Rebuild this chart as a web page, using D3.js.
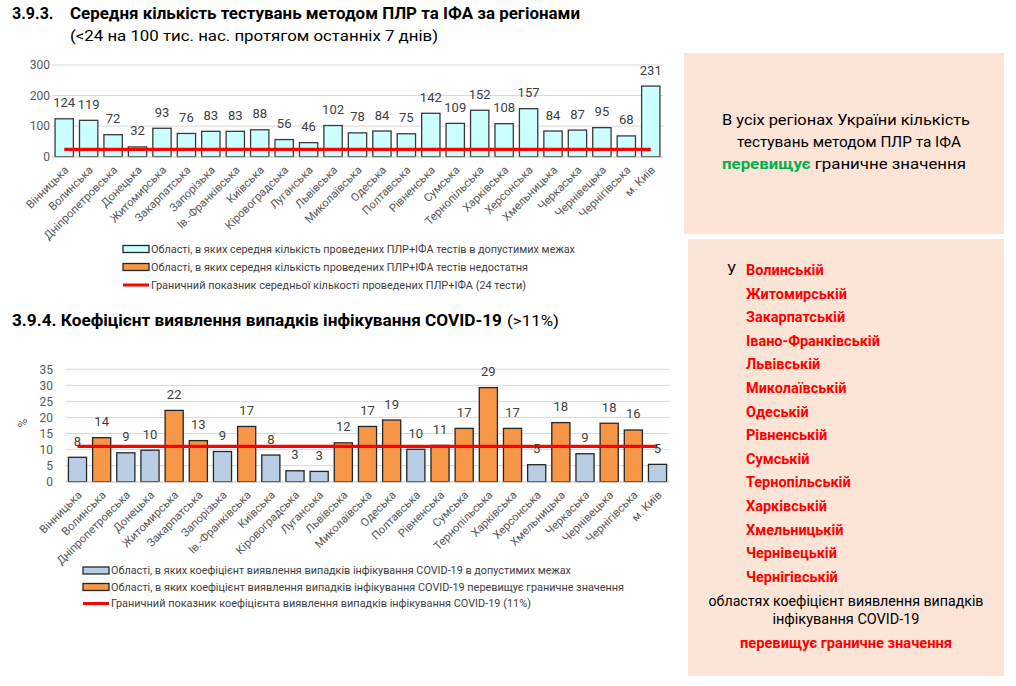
<!DOCTYPE html>
<html><head><meta charset="utf-8">
<script src="https://cdn.jsdelivr.net/npm/d3@7"></script>
<style>
body{margin:0;background:#fff;}
svg{display:block;font-family:Roboto,"Liberation Sans",sans-serif;}
</style></head>
<body><svg id="c" width="1016" height="686"></svg>
<script>
// ---------- DATA ----------
const regions = ["Вінницька","Волинська","Дніпропетровська","Донецька","Житомирська","Закарпатська","Запорізька","Ів.-Франківська","Київська","Кіровоградська","Луганська","Львівська","Миколаївська","Одеська","Полтавська","Рівненська","Сумська","Тернопільська","Харківська","Херсонська","Хмельницька","Черкаська","Чернівецька","Чернігівська","м. Київ"];
const testsValues = [124,119,72,32,93,76,83,83,88,56,46,102,78,84,75,142,109,152,108,157,84,87,95,68,231];
const testsThreshold = 24;
const testsTicks = [0,100,200,300];
const detectValues = [7.6,13.7,9.0,9.8,22.2,12.8,9.4,17.2,8.3,3.4,3.2,12.1,17.2,19.2,10.1,11.3,16.6,29.3,16.6,5.3,18.4,8.7,18.2,16.1,5.4];
const detectThreshold = 11;
const detectTicks = [0,5,10,15,20,25,30,35];
const title1Num = "3.9.3.";
const title1 = "Середня кількість тестувань методом ПЛР та ІФА за регіонами";
const subtitle1 = "(<24 на 100 тис. нас. протягом останніх 7 днів)";
const title2 = "3.9.4. Коефіцієнт виявлення випадків інфікування COVID-19";
const title2b = "(>11%)";
const legend1 = ["Області, в яких середня кількість проведених ПЛР+ІФА тестів в допустимих межах","Області, в яких середня кількість проведених ПЛР+ІФА тестів недостатня","Граничний показник середньої кількості проведених ПЛР+ІФА (24 тести)"];
const legend2 = ["Області, в яких коефіцієнт виявлення випадків інфікування COVID-19 в допустимих межах","Області, в яких коефіцієнт виявлення випадків інфікування COVID-19 перевищує граничне значення","Граничний показник коефіцієнта виявлення випадків інфікування COVID-19 (11%)"];
const panel1Lines = ["В усіх регіонах України кількість","тестувань методом ПЛР та ІФА"];
const panel1Green = "перевищує";
const panel1Tail = " граничне значення";
const panel2Names = ["Волинській","Житомирській","Закарпатській","Івано-Франківській","Львівській","Миколаївській","Одеській","Рівненській","Сумській","Тернопільській","Харківській","Хмельницькій","Чернівецькій","Чернігівській"];
const panel2Tail = ["областях коефіцієнт виявлення випадків","інфікування COVID-19"];
const panel2Red = "перевищує граничне значення";

const svg = d3.select("#c");
const fit = (sel, w) => sel.attr("textLength", w).attr("lengthAdjust", "spacingAndGlyphs");

// ---------- TITLES ----------
svg.append("text").attr("x",12).attr("y",19).attr("font-size",16).attr("font-weight","bold").attr("fill","#000").text(title1Num);
fit(svg.append("text").attr("x",70).attr("y",19).attr("font-size",16).attr("font-weight","bold").attr("fill","#000").text(title1), 510);
fit(svg.append("text").attr("x",70).attr("y",41).attr("font-size",15).attr("fill","#000").text(subtitle1), 368);
fit(svg.append("text").attr("x",12).attr("y",326).attr("font-size",16).attr("font-weight","bold").attr("fill","#000").text(title2), 490);
fit(svg.append("text").attr("x",507).attr("y",326).attr("font-size",15).attr("fill","#000").text(title2b), 52);

// ---------- generic bar chart ----------
function barChart(o){
  const g = svg.append("g");
  const x = d3.scaleBand().domain(regions).range([o.x0,o.x1]).paddingInner(0.25).paddingOuter(0.125);
  const y = d3.scaleLinear().domain([0,o.max]).range([o.y0,o.y1]);
  g.selectAll(".grid").data(o.ticks).join("line")
    .attr("x1",o.x0).attr("x2",o.x1).attr("y1",d=>y(d)).attr("y2",d=>y(d))
    .attr("stroke","#d9d9d9").attr("stroke-width",1);
  const ya = d3.axisLeft(y).tickValues(o.ticks).tickSize(0).tickPadding(0);
  const yg = g.append("g").attr("transform",`translate(${o.tickX},0)`).call(ya);
  yg.select(".domain").remove();
  yg.selectAll("text").attr("font-size",12).attr("fill","#595959").attr("font-family","Roboto,sans-serif");
  g.selectAll(".bar").data(o.values).join("rect")
    .attr("x",(d,i)=>x(regions[i])).attr("width",x.bandwidth())
    .attr("y",d=>y(d)).attr("height",d=>y(0)-y(d))
    .attr("fill",d=>o.color(d)).attr("stroke",o.stroke).attr("stroke-width",1.3);
  const xa = d3.axisBottom(x).tickSize(0).tickSizeOuter(0);
  const xg = g.append("g").attr("transform",`translate(0,${y(0)})`).call(xa);
  xg.select(".domain").attr("stroke","#d9d9d9");
  xg.selectAll("text").attr("font-size",11.3).attr("fill","#595959").attr("font-family","Roboto,sans-serif")
    .attr("text-anchor","end").attr("dy",0).attr("y",0)
    .attr("transform","translate(5,14) rotate(-45)");
  g.append("line").attr("x1",x(regions[0])+x.bandwidth()/2).attr("x2",x(regions[regions.length-1])+x.bandwidth()/2)
    .attr("y1",y(o.threshold)).attr("y2",y(o.threshold)).attr("stroke","#ff0000").attr("stroke-width",3.2);
  g.selectAll(".lbl").data(o.values).join("text")
    .attr("x",(d,i)=>x(regions[i])+x.bandwidth()/2).attr("y",d=>y(d)-11.5)
    .attr("text-anchor","middle").attr("font-size",13).attr("fill","#404040")
    .text(d=>Math.round(d));
  return {x,y,g};
}

barChart({x0:52,x1:663,y0:156.7,y1:65,max:300,ticks:testsTicks,tickX:50,values:testsValues,threshold:testsThreshold,
  color:d=>d>=testsThreshold?"#ccffff":"#f79646",stroke:"#3a3a3a"});
barChart({x0:65.4,x1:669.6,y0:481.7,y1:369.3,max:35,ticks:detectTicks,tickX:53,values:detectValues,threshold:detectThreshold,
  color:d=>d>detectThreshold?"#f79646":"#b9cde5",stroke:"#262626"});

svg.append("text").attr("transform","translate(27,423) rotate(-90)").attr("text-anchor","middle")
  .attr("font-size",12).attr("fill","#595959").text("%");

// ---------- legends ----------
function legend(x, ys, texts, widths, fills){
  texts.forEach((t,i)=>{
    if(fills[i]==="line"){
      svg.append("line").attr("x1",x).attr("x2",x+26).attr("y1",ys[i]).attr("y2",ys[i]).attr("stroke","#ff0000").attr("stroke-width",3);
    } else {
      svg.append("rect").attr("x",x).attr("y",ys[i]-3.5).attr("width",26).attr("height",7).attr("fill",fills[i]).attr("stroke","#262626").attr("stroke-width",1.3);
    }
    fit(svg.append("text").attr("x",x+28).attr("y",ys[i]+3.8).attr("font-size",10.5).attr("fill","#404040").text(t), widths[i]);
  });
}
legend(123,[249,267,285],legend1,[424,377,375],["#ccffff","#f79646","line"]);
legend(83,[570.5,587,603.5],legend2,[460,513,420],["#b9cde5","#f79646","line"]);

// ---------- right panels ----------
svg.append("rect").attr("x",684).attr("y",53).attr("width",320).attr("height",181).attr("fill","#fce4d6");
svg.append("rect").attr("x",688).attr("y",239).attr("width",316).attr("height",437).attr("fill","#fce4d6");

const p1 = svg.append("g").attr("font-size",15.5).attr("fill","#000").attr("text-anchor","middle");
fit(p1.append("text").attr("x",846).attr("y",125).text(panel1Lines[0]), 248);
fit(p1.append("text").attr("x",849).attr("y",147).text(panel1Lines[1]), 224);
const l3 = p1.append("text").attr("x",844).attr("y",169);
l3.append("tspan").attr("font-weight","bold").attr("fill","#00b050").text(panel1Green);
l3.append("tspan").text(panel1Tail);
fit(l3, 244);

const p2 = svg.append("g");
p2.append("text").attr("x",727).attr("y",275).attr("font-size",14.5).attr("fill","#000").text("У");
const nameStep = (576.7-270)/(panel2Names.length-1);
const names = p2.selectAll(".nm").data(panel2Names).join("text")
  .attr("x",746).attr("y",(d,i)=>270+i*nameStep+5).attr("font-size",14).attr("font-weight","bold").attr("fill","#ff0000").text(d=>d);
const longest = names.filter(d=>d==="Івано-Франківській").node();
const sc = 134/longest.getComputedTextLength();
names.attr("font-size",14*sc);
fit(p2.append("text").attr("x",846).attr("y",605.5).attr("text-anchor","middle").attr("font-size",14.5).attr("fill","#000").text(panel2Tail[0]), 275);
fit(p2.append("text").attr("x",846).attr("y",624).attr("text-anchor","middle").attr("font-size",14.5).attr("fill","#000").text(panel2Tail[1]), 147);
fit(p2.append("text").attr("x",846).attr("y",648).attr("text-anchor","middle").attr("font-size",14.5).attr("font-weight","bold").attr("fill","#ff0000").text(panel2Red), 212);
</script></body></html>
